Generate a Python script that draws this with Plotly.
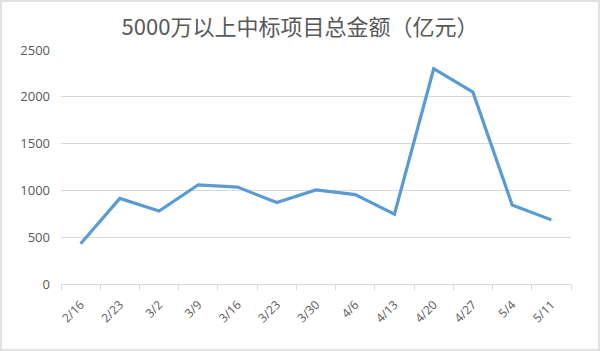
import plotly.graph_objects as go

categories = ["2/16", "2/23", "3/2", "3/9", "3/16", "3/23", "3/30", "4/6", "4/13", "4/20", "4/27", "5/4", "5/11"]
values = [430, 915, 780, 1060, 1035, 870, 1005, 955, 745, 2300, 2050, 845, 685]
y_ticks = [0, 500, 1000, 1500, 2000, 2500]
title_text = "5000万以上中标项目总金额（亿元）"

W, H = 600, 351
L, R, T, B = 61, 29, 50, 67
pw, ph = W - L - R, H - T - B

fig = go.Figure()
fig.add_trace(go.Scatter(
    x=categories, y=values, mode="lines",
    line=dict(color="#5b9bd5", width=3.2),
    hoverinfo="x+y",
))

fig.update_layout(
    width=W, height=H,
    margin=dict(l=L, r=R, t=T, b=B),
    paper_bgcolor="white", plot_bgcolor="white",
    showlegend=False,
    title=dict(text=title_text, x=0.5, xanchor="center", y=1 - 27 / H, yanchor="middle",
               font=dict(family="Noto Sans CJK SC", size=22, color="#595959")),
    font=dict(family="Open Sans, Noto Sans", color="#595959", size=12),
    xaxis=dict(
        type="category", tickangle=-45, tickson="boundaries",
        range=[-0.5, len(categories) - 0.5],
        ticks="outside", ticklen=5, tickcolor="#d9d9d9",
        showline=True, linecolor="#d9d9d9", linewidth=1,
        showgrid=False, tickfont=dict(size=12, color="#595959"),
        ticklabelstandoff=8,
    ),
    yaxis=dict(
        range=[0, 2500], tickvals=y_ticks, showgrid=True, gridcolor="#d9d9d9",
        gridwidth=1, zeroline=False, showline=False, ticks="",
        tickfont=dict(size=13, color="#595959"), ticklabelstandoff=10,
    ),
    shapes=[dict(
        type="rect", xref="paper", yref="paper",
        x0=(1 - L) / pw, x1=(W - 1 - L) / pw,
        y0=(T + ph - (H - 1)) / ph, y1=(T + ph - 1) / ph,
        line=dict(color="#d9d9d9", width=1.5), layer="below",
    )],
)

fig.write_html("out.html")
